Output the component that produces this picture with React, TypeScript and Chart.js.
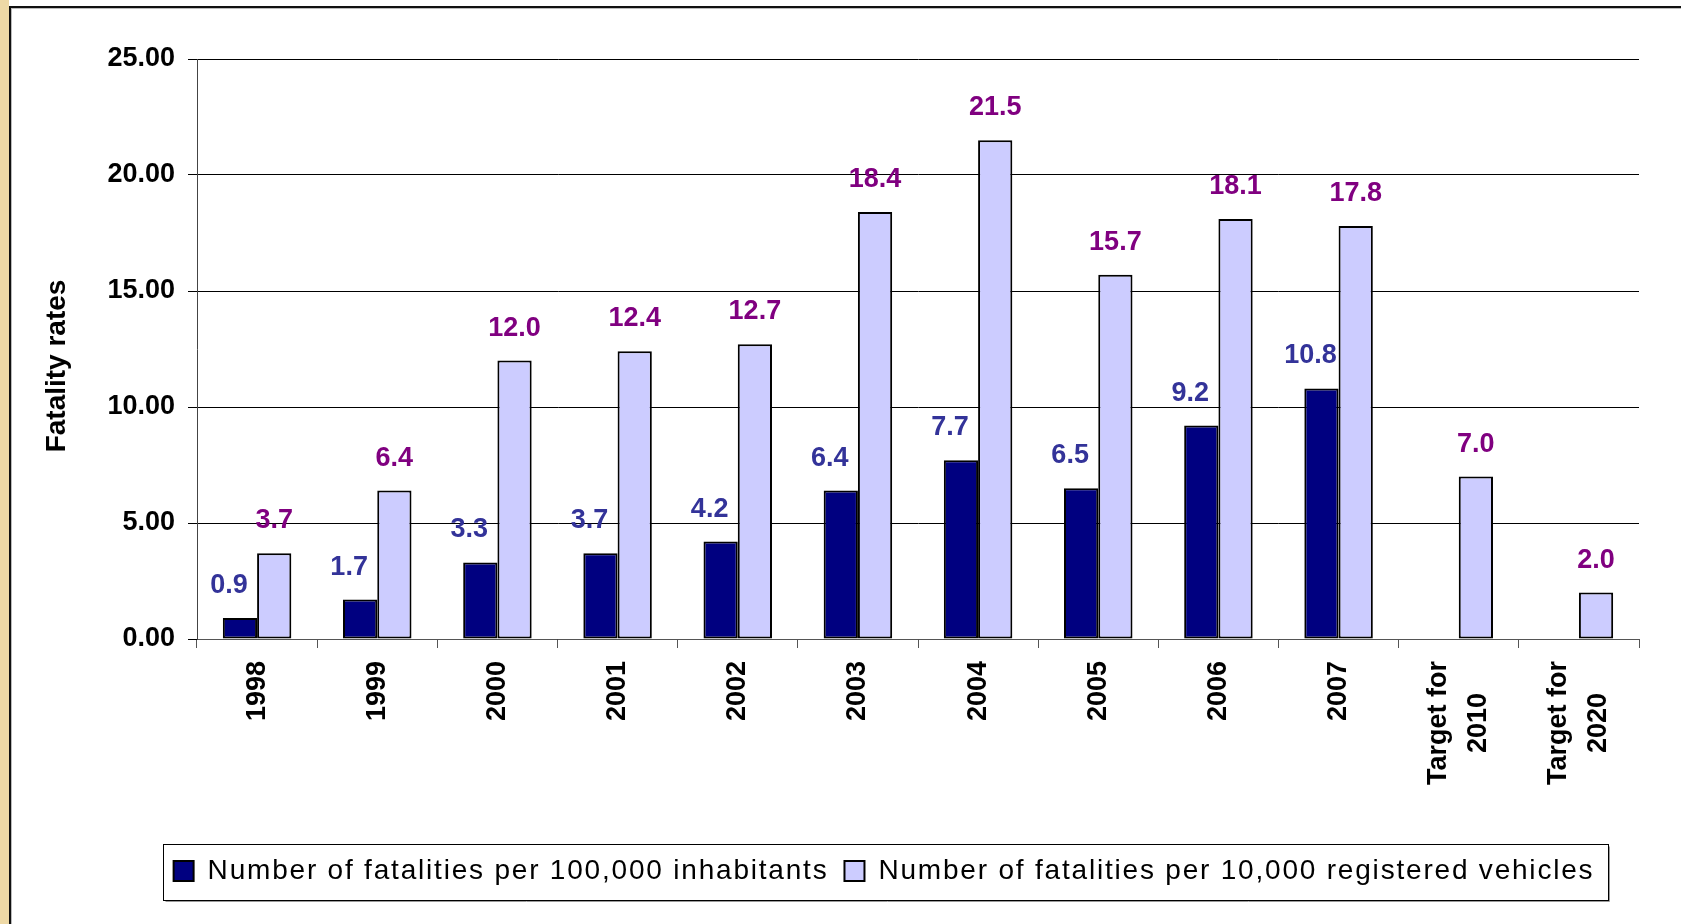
import React, { useEffect, useRef } from 'react';
import { Chart, registerables } from 'chart.js';

Chart.register(...registerables);

// ---- data ----
const categories: (string | string[])[] = [
  '1998', '1999', '2000', '2001', '2002', '2003', '2004', '2005', '2006', '2007',
  ['Target for', '2010'], ['Target for', '2020'],
];
const perInhabitants: (number | null)[] = [0.9, 1.7, 3.3, 3.7, 4.2, 6.4, 7.7, 6.5, 9.2, 10.8, null, null];
const perVehicles: (number | null)[] = [3.7, 6.4, 12.0, 12.4, 12.7, 18.4, 21.5, 15.7, 18.1, 17.8, 7.0, 2.0];
const seriesNames: string[] = [
  'Number of fatalities per 100,000 inhabitants',
  'Number of fatalities per 10,000 registered vehicles',
];
const yAxisTitle = 'Fatality rates';
const yMin = 0;
const yMax = 25;
const yStep = 5;

// ---- styles ----
const FONT = "'Liberation Sans', Arial, Helvetica, sans-serif";
const BAR_COLORS = ['#000080', '#CCCCFF'];
const LABEL_COLORS = ['#333399', '#800080'];
const LEGEND_SPACING = '1.8px';

const legendSpacingPlugin = {
  id: 'legendSpacing',
  beforeLayout(chart: any) {
    const lg: any = chart.legend;
    if (lg && !lg.__spaced) {
      lg.__spaced = true;
      const origFit = lg.fit.bind(lg);
      const origDraw = lg.draw.bind(lg);
      lg.fit = function () {
        const ctx: any = chart.ctx;
        const prev = ctx.letterSpacing;
        ctx.letterSpacing = LEGEND_SPACING;
        origFit();
        ctx.letterSpacing = prev || '0px';
      };
      lg.draw = function (area: any) {
        const ctx: any = chart.ctx;
        const prev = ctx.letterSpacing;
        ctx.letterSpacing = LEGEND_SPACING;
        origDraw(area);
        ctx.letterSpacing = prev || '0px';
      };
    }
  },
  afterDraw(chart: any) {
    const lg: any = chart.legend;
    const hb: any[] = lg && lg.legendHitBoxes;
    if (!hb || !hb.length) return;
    const left = Math.min(...hb.map((h) => h.left));
    const right = Math.max(...hb.map((h) => h.left + h.width));
    const top = Math.min(...hb.map((h) => h.top));
    const bottom = Math.max(...hb.map((h) => h.top + h.height));
    const ctx = chart.ctx;
    ctx.save();
    const x0 = Math.round(left - 11) + 0.5;
    const y0 = Math.round(top - 13) + 0.5;
    const w = Math.round(right - left + 24);
    const h = Math.round(bottom - top + 28);
    ctx.strokeStyle = '#9a9a9a';
    ctx.lineWidth = 1;
    ctx.beginPath();
    ctx.moveTo(x0 + 2, y0 + h + 1);
    ctx.lineTo(x0 + w + 1, y0 + h + 1);
    ctx.lineTo(x0 + w + 1, y0 + 2);
    ctx.stroke();
    ctx.strokeStyle = '#000';
    ctx.strokeRect(x0, y0, w, h);
    ctx.restore();
  },
};

const valueLabelsPlugin = {
  id: 'valueLabels',
  afterDatasetsDraw(chart: any) {
    const ctx = chart.ctx;
    ctx.save();
    ctx.font = `bold 27px ${FONT}`;
    ctx.textAlign = 'center';
    ctx.textBaseline = 'alphabetic';
    chart.data.datasets.forEach((ds: any, di: number) => {
      const meta = chart.getDatasetMeta(di);
      meta.data.forEach((el: any, i: number) => {
        const v = ds.data[i];
        if (v === null || v === undefined) return;
        const dx = di === 0 ? -11 : 0;
        ctx.fillStyle = LABEL_COLORS[di];
        ctx.fillText(Number(v).toFixed(1), el.x + dx, el.y - 25);
      });
    });
    ctx.restore();
  },
};

const axisTextPlugin = {
  id: 'axisText',
  afterDraw(chart: any) {
    const ctx = chart.ctx;
    const xs = chart.scales.x;
    const area = chart.chartArea;
    ctx.save();
    ctx.fillStyle = '#000';
    ctx.font = `bold 27px ${FONT}`;
    const top = area.bottom + 22;
    (chart.data.labels as any[]).forEach((lab, i) => {
      const lines: string[] = Array.isArray(lab) ? lab : [String(lab)];
      const maxW = Math.max(...lines.map((l) => ctx.measureText(l).width));
      const px = xs.getPixelForValue(i);
      ctx.save();
      ctx.translate(px, top + maxW / 2);
      ctx.rotate(-Math.PI / 2);
      ctx.textAlign = 'center';
      ctx.textBaseline = 'middle';
      lines.forEach((l, j) => ctx.fillText(l, 0, (j - (lines.length - 1) / 2) * 40));
      ctx.restore();
    });
    // y axis title
    ctx.save();
    ctx.font = `bold 28px ${FONT}`;
    ctx.translate(57, (area.top + area.bottom) / 2 + 17);
    ctx.rotate(-Math.PI / 2);
    ctx.textAlign = 'center';
    ctx.textBaseline = 'middle';
    ctx.fillText(yAxisTitle, 0, 0);
    ctx.restore();
    ctx.restore();
  },
};

export default function App() {
  const ref = useRef<HTMLCanvasElement | null>(null);

  useEffect(() => {
    document.body.style.margin = '0';
    document.body.style.overflow = 'hidden';
    if (!ref.current) return;
    const chart = new Chart(ref.current, {
      type: 'bar',
      data: {
        labels: categories as any,
        datasets: [
          {
            label: seriesNames[0],
            data: perInhabitants as any,
            backgroundColor: BAR_COLORS[0],
            borderColor: '#000',
            borderWidth: 2,
            borderSkipped: false,
            categoryPercentage: 0.57,
            barPercentage: 1,
          },
          {
            label: seriesNames[1],
            data: perVehicles as any,
            backgroundColor: BAR_COLORS[1],
            borderColor: '#000',
            borderWidth: 2,
            borderSkipped: false,
            categoryPercentage: 0.57,
            barPercentage: 1,
          },
        ],
      },
      options: {
        responsive: false,
        animation: false,
        events: [],
        layout: { padding: { left: 129, right: 42, top: 59, bottom: 29 } },
        plugins: {
          tooltip: { enabled: false },
          title: { display: false },
          legend: {
            display: true,
            position: 'bottom',
            labels: {
              color: '#000',
              font: { family: FONT, size: 28, weight: 'normal' },
              boxWidth: 20,
              boxHeight: 20,
              padding: 16,
            },
          },
        },
        scales: {
          x: {
            offset: true,
            grid: {
              display: true,
              offset: true,
              drawOnChartArea: false,
              drawTicks: true,
              tickLength: 9,
              color: '#555',
            },
            border: { display: true, color: '#555', width: 1 },
            ticks: { display: false },
            afterFit: (s: any) => {
              s.height = 202;
            },
          },
          y: {
            min: yMin,
            max: yMax,
            ticks: {
              stepSize: yStep,
              color: '#000',
              padding: 13,
              font: { family: FONT, size: 27, weight: 'bold' },
              callback: (v: any) => Number(v).toFixed(2),
            },
            grid: { color: '#000', lineWidth: 1, tickLength: 9, drawTicks: true },
            border: { display: true, color: '#444', width: 1 },
            afterFit: (s: any) => {
              s.width = 68;
              // let the tick labels extend left of the narrow scale box
              s._computeLabelArea = () => undefined;
            },
          },
        },
      } as any,
      plugins: [legendSpacingPlugin, valueLabelsPlugin, axisTextPlugin],
    });
    return () => chart.destroy();
  }, []);

  return (
    <div style={{ position: 'fixed', left: 0, top: 0, width: 1681, height: 924, background: '#fff', overflow: 'hidden' }}>
      <div style={{ position: 'absolute', left: 0, top: 0, width: 9, height: 924, background: '#EED9A6' }} />
      <div
        style={{
          position: 'absolute',
          left: 9,
          top: 6,
          right: 0,
          bottom: 0,
          borderLeft: '2px solid #111',
          borderTop: '2px solid #111',
          boxShadow: 'inset 1px 1px 0 #bbb',
        }}
      />
      <canvas ref={ref} width={1681} height={924} style={{ position: 'absolute', left: 0, top: 0, display: 'block' }} />
    </div>
  );
}
